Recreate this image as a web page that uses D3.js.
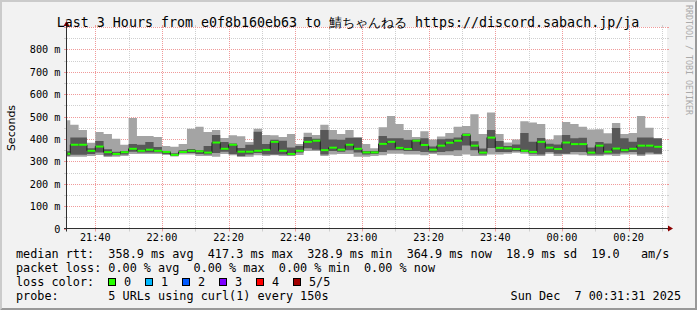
<!DOCTYPE html>
<html lang="ja">
<head>
<meta charset="UTF-8">
<title>SmokePing - Last 3 Hours</title>
<script src="https://d3js.org/d3.v7.min.js"></script>
<style>
  body { margin: 0; background: #fff; }
  svg { display: block; }
  text { font-family: "DejaVu Sans Mono", monospace; white-space: pre; fill: #000; }
</style>
</head>
<body>
<svg id="chart" width="697" height="310"></svg>
<script>
const title = "Last 3 Hours from e0f8b160eb63 to 鯖ちゃんねる https://discord.sabach.jp/ja";
const rangeStart = Date.UTC(2025, 11, 6, 21, 31, 31);
const rangeEnd = Date.UTC(2025, 11, 7, 0, 31, 31);
const firstStep = Date.UTC(2025, 11, 6, 21, 30, 0);
const stepSec = 150;

// 5 probes per step, sorted: min, 2nd, median, 4th, max (ms)
const maxRtt = [484,463,440,383,431,422,401,374,493,413, 413,409,369,365,377,445,454,431,440,404,
                417,412,386,445,418,416,409,422,377,428, 418,463,440,422,440,408,377,358,452,502,
                467,440,409,434,398,411,427,454,458,510, 422,518,422,384,398,479,473,467,398,417,
                476,467,455,442,443,425,471,422,427,502, 450,404];
const p4Rtt  = [345,407,407,358,391,354,343,346,377,374, 386,364,346,336,350,355,350,369,418,386,
                380,359,374,432,377,396,392,362,368,409, 401,440,398,396,405,405,346,346,413,403,
                403,396,398,403,366,399,401,407,424,390, 357,440,391,368,375,427,387,404,378,375,
                418,403,405,362,386,380,449,403,387,407, 407,402];
const medianRtt = [334,374,374,347,366,341,333,341,356,347, 352,347,342,329,342,347,345,339,384,356,
                374,343,343,347,351,387,347,333,347,387, 392,350,361,352,374,356,340,340,378,387,
                360,355,392,373,352,370,383,392,418,370, 339,406,360,358,355,347,342,387,361,355,
                384,377,377,339,370,343,357,350,356,370, 370,365];
const p2Rtt  = [325,329,329,333,339,325,327,330,343,339, 339,339,333,326,337,337,333,330,337,343,
                333,324,330,337,330,330,330,327,339,358, 352,330,346,343,349,340,330,333,342,349,
                349,346,346,342,339,342,345,349,371,349, 330,360,342,342,345,342,334,330,342,334,
                334,342,342,330,330,334,334,339,342,330, 339,334];
const minRtt = [320,321,321,324,328,319,321,324,333,333, 333,333,328,322,331,331,324,324,321,333,
                327,319,321,327,324,327,324,324,328,346, 346,324,330,333,333,321,321,324,327,334,
                334,330,330,327,333,327,327,324,330,324, 324,330,330,334,338,334,324,324,334,324,
                330,330,327,324,324,327,324,330,330,324, 330,330];

const xTickLabels = ["21:40", "22:00", "22:20", "22:40", "23:00", "23:20", "23:40", "00:00", "00:20"];
const yTickLabels = ["0", "100 m", "200 m", "300 m", "400 m", "500 m", "600 m", "700 m", "800 m"];
const lossLabels = ["0", "1", "2", "3", "4", "5/5"];
const lossColors = ["#26ff00", "#00b8ff", "#0059ff", "#7e00ff", "#ff0000", "#a10000"];
const legendRows = [
  "median rtt:  358.9 ms avg  417.3 ms max  328.9 ms min  364.9 ms now  18.9 ms sd  19.0   am/s",
  "packet loss: 0.00 % avg  0.00 % max  0.00 % min  0.00 % now",
  "loss color:",
  "probe:       5 URLs using curl(1) every 150s"
];
const dateStamp = "Sun Dec  7 00:31:31 2025";

const W = 697, H = 310;
const plot = {left: 67, right: 667, top: 27, bottom: 228.5};
const svg = d3.select("#chart");

const x = d3.scaleUtc().domain([rangeStart, rangeEnd]).range([plot.left, plot.right]);
const y = d3.scaleLinear().domain([0, 900]).range([plot.bottom, plot.top]);
const px = v => Math.round(v) + 0.5;

// background and 3d frame
svg.append("rect").attr("width", W).attr("height", H).attr("fill", "#f2f2f2");
svg.append("path").attr("d", `M0,0H${W}L${W - 2},2H2V${H - 2}L0,${H}Z`).attr("fill", "#cbcbcb");
svg.append("path").attr("d", `M${W},0V${H}H0L2,${H - 2}H${W - 2}V2Z`).attr("fill", "#999");

svg.append("rect")
   .attr("x", plot.left).attr("y", plot.top)
   .attr("width", plot.right - plot.left).attr("height", plot.bottom - plot.top)
   .attr("fill", "#fff");

// grid
const timeTicks = x.ticks(d3.utcMinute.every(10));
const rttTicks = y.ticks(18).filter(v => v > 0);
const isMajorT = t => t.getUTCMinutes() % 20 === 0;
const isMajorV = v => v % 100 === 0;
const minorCol = "#cfcfcf", majorCol = "#f09a9a";

const grid = svg.append("g").attr("fill", "none");
grid.selectAll(".vgrid").data(timeTicks).join("line").attr("class", "vgrid")
    .attr("x1", d => px(x(d))).attr("x2", d => px(x(d)))
    .attr("y1", plot.top).attr("y2", plot.bottom)
    .attr("stroke", d => isMajorT(d) ? majorCol : minorCol)
    .attr("stroke-dasharray", "1,1");
grid.selectAll(".hgrid").data(rttTicks).join("line").attr("class", "hgrid")
    .attr("x1", plot.left).attr("x2", plot.right)
    .attr("y1", d => px(y(d))).attr("y2", d => px(y(d)))
    .attr("stroke", d => isMajorV(d) ? majorCol : minorCol)
    .attr("stroke-dasharray", "1,1");
// little solid stubs outside the canvas
grid.selectAll(".htick").data(rttTicks.concat([0])).join("path").attr("class", "htick")
    .attr("d", d => `M${plot.left - 3},${px(y(d))}H${plot.left}M${plot.right},${px(y(d))}H${plot.right + 2}`)
    .attr("stroke", d => isMajorV(d) ? majorCol : minorCol);
grid.selectAll(".vtick").data(timeTicks).join("path").attr("class", "vtick")
    .attr("d", d => `M${px(x(d))},${plot.bottom}V${plot.bottom + 3}M${px(x(d))},${plot.top - 2}V${plot.top}`)
    .attr("stroke", d => isMajorT(d) ? majorCol : minorCol);

// steps
const steps = medianRtt.map((m, i) => ({
  t0: Math.max(firstStep + i * stepSec * 1000, rangeStart),
  t1: firstStep + (i + 1) * stepSec * 1000,
  max: maxRtt[i], p4: p4Rtt[i], med: m, p2: p2Rtt[i], min: minRtt[i]
}));
const last = steps[steps.length - 1];
const pts = steps.map(s => ({...s, t: s.t0})).concat([{...last, t: last.t1}]);

const band = (hi, lo) => d3.area().curve(d3.curveStepAfter)
    .x(d => x(d.t)).y0(d => y(d[lo])).y1(d => y(d[hi]));

svg.append("path").attr("d", band("max", "min")(pts)).attr("fill", "#a4a4a4");
svg.append("path").attr("d", band("p4", "p2")(pts)).attr("fill", "#585858");

svg.append("path")
   .attr("d", d3.line().curve(d3.curveStepAfter).x(d => x(d.t)).y(d => y(d.med))(pts))
   .attr("fill", "none").attr("stroke", "#202020").attr("stroke-width", 1);

svg.selectAll(".med").data(steps).join("rect").attr("class", "med")
   .attr("x", d => x(d.t0) + 0.5).attr("width", d => x(d.t1) - x(d.t0) - 0.5)
   .attr("y", d => y(d.med) - 1).attr("height", 2)
   .attr("fill", lossColors[0]);

// axes
svg.append("path")
   .attr("d", `M${plot.left - 3},${plot.bottom}H${plot.right + 1}M${plot.left - 0.5},${plot.bottom + 3}V${plot.top - 1}`)
   .attr("stroke", "#303030").attr("fill", "none");
svg.append("path")
   .attr("d", `M${plot.right + 1},${plot.bottom - 3}L${plot.right + 6},${plot.bottom}L${plot.right + 1},${plot.bottom + 3}Z`)
   .attr("fill", "#8b0000");
svg.append("path")
   .attr("d", `M${plot.left - 3.5},${plot.top - 1}L${plot.left - 0.5},${plot.top - 6}L${plot.left + 2.5},${plot.top - 1}Z`)
   .attr("fill", "#8b0000");

// tick labels
const majorTimes = timeTicks.filter(isMajorT);
svg.selectAll(".xl").data(majorTimes).join("text").attr("class", "xl")
   .attr("x", d => x(d)).attr("y", 241)
   .attr("text-anchor", "middle").attr("font-size", "10.2px")
   .text((d, i) => xTickLabels[i]);
const majorVals = y.ticks(9).filter(v => v <= 800);
svg.selectAll(".yl").data(majorVals).join("text").attr("class", "yl")
   .attr("x", 60.5).attr("y", d => px(y(d)) + 3.5)
   .attr("text-anchor", "end").attr("font-size", "10.2px")
   .text((d, i) => yTickLabels[i]);

svg.append("text")
   .attr("transform", "translate(15,128) rotate(-90)")
   .attr("text-anchor", "middle")
   .style("font-family", "'DejaVu Sans', sans-serif")
   .attr("font-size", "11px")
   .text("Seconds");

// title
svg.append("text")
   .attr("x", 348).attr("y", 27)
   .attr("text-anchor", "middle").attr("font-size", "13.3px")
   .text(title);

// watermark
svg.append("text")
   .attr("transform", "translate(685.5,5) rotate(90)")
   .attr("font-size", "8.3px")
   .style("fill", "#aaa")
   .text("RRDTOOL / TOBI OETIKER");

// legend
svg.selectAll(".leg").data(legendRows).join("text").attr("class", "leg")
   .attr("x", 16).attr("y", (d, i) => 258 + i * 14)
   .attr("font-size", "11.8px")
   .text(d => d);

const lossG = svg.selectAll(".loss").data(lossLabels).join("g").attr("class", "loss")
   .attr("transform", (d, i) => `translate(${108.5 + i * 37},278.5)`);
lossG.append("rect").attr("width", 7).attr("height", 7)
   .attr("fill", (d, i) => lossColors[i]).attr("stroke", "#000");
lossG.append("text").attr("x", 15.5).attr("y", 7.5)
   .attr("font-size", "11.8px").text(d => d);

svg.append("text")
   .attr("x", 681).attr("y", 300)
   .attr("text-anchor", "end").attr("font-size", "11.8px")
   .text(dateStamp);
</script>
</body>
</html>
